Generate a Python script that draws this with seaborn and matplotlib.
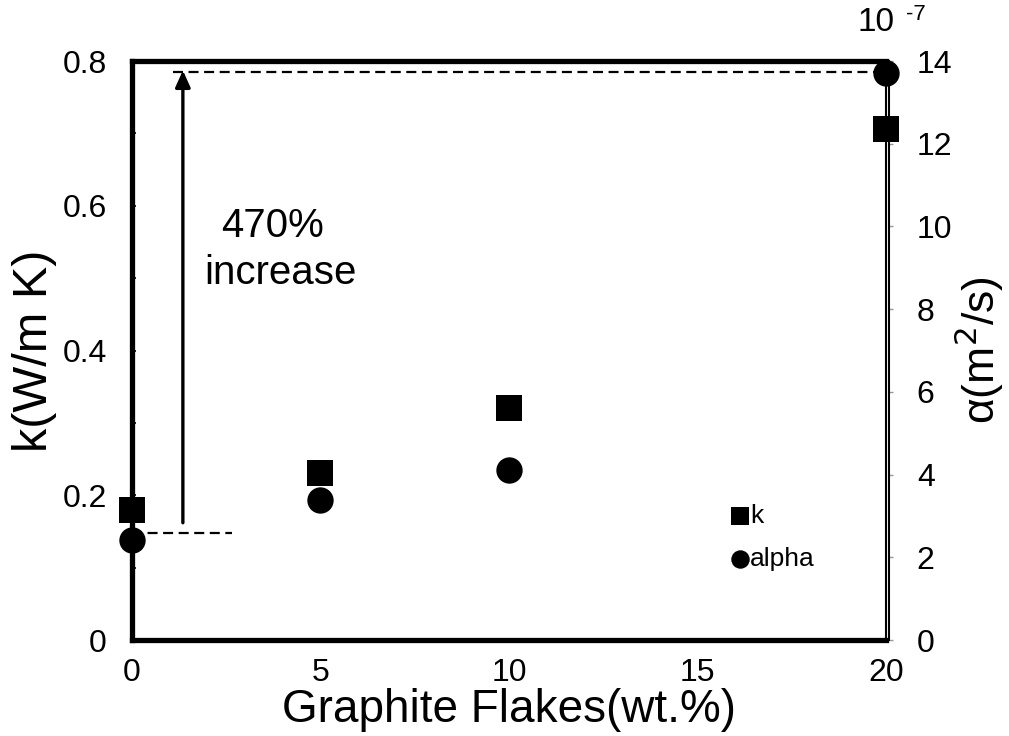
import numpy as np
import pandas as pd
import matplotlib
matplotlib.use("Agg")
import matplotlib.pyplot as plt
import seaborn as sns
from matplotlib.ticker import MultipleLocator

# ---- data ----
graphite_wt = [0, 5, 10, 20]
k_values = [0.18, 0.231, 0.32, 0.706]          # W/m K
alpha_values = [2.42, 3.38, 4.11, 13.7]        # 1e-7 m^2/s
left_ticks = [0, 0.2, 0.4, 0.6, 0.8]
left_ticklabels = ["0", "0.2", "0.4", "0.6", "0.8"]
right_ticks = [0, 2, 4, 6, 8, 10, 12, 14]
x_ticks = [0, 5, 10, 15, 20]

df = pd.DataFrame({"wt": graphite_wt, "k": k_values, "alpha": alpha_values})

sns.set_style("white")
plt.rcParams["font.family"] = ["Liberation Sans", "DejaVu Sans"]
plt.rcParams["text.color"] = "black"
plt.rcParams["axes.labelcolor"] = "black"
plt.rcParams["xtick.color"] = "black"
plt.rcParams["ytick.color"] = "black"

fig = plt.figure(figsize=(10.09, 7.36), dpi=100)
ax = fig.add_axes([0.1308, 0.1304, 0.8781 - 0.1308, 0.9171 - 0.1304])
ax2 = ax.twinx()

# k on left axis
sns.scatterplot(data=df, x="wt", y="k", ax=ax, marker="s", s=360, color="black",
                linewidth=0, zorder=5, clip_on=False, label="k", legend=False)
# alpha on right axis
sns.scatterplot(data=df, x="wt", y="alpha", ax=ax2, marker="o", s=360, color="black",
                linewidth=0, zorder=5, clip_on=False, label="alpha", legend=False)

ax.set_xlim(0, 20)
ax.set_ylim(0, 0.8)
ax2.set_ylim(0, 14)

ax.set_xticks(x_ticks)
ax.set_xticklabels([str(v) for v in x_ticks])
ax.set_yticks(left_ticks)
ax.set_yticklabels(left_ticklabels)
ax.yaxis.set_minor_locator(MultipleLocator(0.1))
ax2.set_yticks(right_ticks)
ax2.set_yticklabels([str(v) for v in right_ticks])

ax.tick_params(axis="x", which="both", length=0, labelsize=23, pad=13)
ax.tick_params(axis="y", which="major", direction="in", length=3, width=1.2,
               labelsize=23, pad=18, left=True, right=False)
ax.tick_params(axis="y", which="minor", direction="in", length=3, width=1.2, left=True)
ax2.tick_params(axis="y", which="major", direction="out", length=3, width=1,
                color="#999999", labelsize=23, pad=17)

# spines
for s in ["left", "top", "bottom"]:
    ax.spines[s].set_linewidth(3.8)
    ax.spines[s].set_color("black")
ax.spines["right"].set_linewidth(1.5)
ax.spines["right"].set_color("black")
for s in ["left", "top", "bottom"]:
    ax2.spines[s].set_visible(False)
ax2.spines["right"].set_linewidth(1.5)
ax2.spines["right"].set_color("black")
ax2.spines["right"].set_position(("outward", 2.2))

# labels
ax.set_xlabel("Graphite Flakes(wt.%)", fontsize=33, labelpad=0)
ax.set_ylabel("k(W/m K)", fontsize=35, labelpad=4)
ax2.set_ylabel("α(m$^2$/s)", fontsize=32, labelpad=0)

# annotation lines
ax.plot([0, 2.65], [0.148, 0.148], color="black", lw=1.6, ls=(0, (4.5, 2.5)),
        zorder=4, clip_on=False)
ax.plot([1.09, 19.85], [0.785, 0.785], color="black", lw=1.6, ls=(0, (4.5, 2.5)),
        zorder=4, clip_on=False)
ax.annotate("", xy=(1.35, 0.787), xytext=(1.35, 0.162),
            arrowprops=dict(arrowstyle="-|>,head_length=1.0,head_width=0.45",
                            color="black", lw=2.4, shrinkA=0, shrinkB=0))
ax.text(3.74, 0.572, "470%", fontsize=29, ha="center", va="center")
ax.text(3.93, 0.507, "increase", fontsize=29, ha="center", va="center")

# legend
h1, l1 = ax.get_legend_handles_labels()
h2, l2 = ax2.get_legend_handles_labels()
leg = ax2.legend(h1 + h2, l1 + l2, frameon=False, fontsize=19, markerscale=0.7,
                 handletextpad=-0.6, labelspacing=0.7, borderaxespad=0,
                 loc="upper left", bbox_to_anchor=(0.757, 0.253))

# exponent
fig.text(0.850, 0.970, "10", fontsize=24, ha="left", va="center")
fig.text(0.898, 0.980, "-7", fontsize=16, ha="left", va="center")

fig.savefig("out.png", dpi=100)
